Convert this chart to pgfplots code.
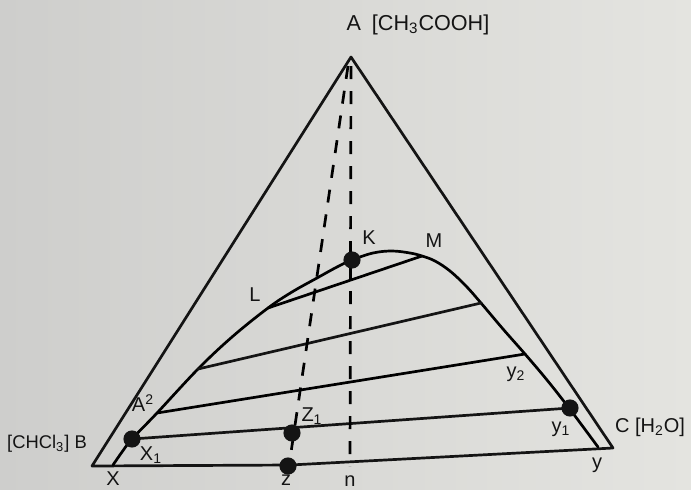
\documentclass[border=0pt]{standalone}
\usepackage{pgfplots}
\pgfplotsset{compat=1.18}
\usepackage{fontspec}
\setmainfont{Liberation Sans}
\definecolor{paper}{RGB}{228,228,224}
\definecolor{paperedge}{RGB}{206,206,204}
\definecolor{ink}{RGB}{20,20,20}
\tikzset{lbl/.style={font=\fontsize{10}{12}\selectfont, text=ink, inner sep=0pt}}

\begin{document}
\begin{tikzpicture}
\begin{axis}[
  scale only axis, width=345.5pt, height=244.5pt,
  xmin=0, xmax=691, ymin=0, ymax=489, y dir=reverse,
  hide axis, clip=false,
  cycle list={{ink, mark=none}},
  every axis plot/.append style={line width=1.35pt, line join=round, line cap=round},
]
% page background
\path[left color=paperedge, right color=paper, shading angle=90]
  (axis cs:0,0) rectangle (axis cs:691,489);

% outer triangle A-B-C
\addplot coordinates {(92,466) (351,57) (613,448) (290,465) (92,466)};

% binodal curve X ... K ... y
\addplot[smooth, tension=0.6] coordinates {
  (113,465) (122,452) (132,439) (157,413) (198,369) (232,337) (268,308)
  (292,292) (317,278) (337,267) (352,260) (373,253) (392,251) (410,253)
  (422,256) (435,261) (450,271) (466,286) (481,303) (503,329) (525,354)
  (547,380) (569,408) (598,447)};

% tie lines
\addplot coordinates {(132,439) (570,408)};
\addplot coordinates {(157,413) (525,354)};
\addplot coordinates {(198,369) (481,303)};
\addplot coordinates {(268,308) (422,256)};

% dashed construction lines from A
\addplot[line width=1.35pt, dash pattern=on 6.5pt off 6pt, line cap=butt]
  coordinates {(351,66) (350,466)};
\addplot[line width=1.35pt, dash pattern=on 6.5pt off 6pt, line cap=butt]
  coordinates {(348,66) (289,466)};

% composition points
\addplot[only marks, mark=*, mark size=3.6pt, mark options={fill=ink, draw=ink}]
  coordinates {(132,439) (292,433) (288,466) (352,260) (570,408)};

% labels
\node[lbl, font=\fontsize{10.8}{13}\selectfont] at (axis cs:418,25) {A\hspace{0.5em}[CH\textsubscript{3}COOH]};
\node[lbl, font=\fontsize{9.2}{11}\selectfont] at (axis cs:47,444) {[CHCl\textsubscript{3}] B};
\node[lbl] at (axis cs:650,427) {C [H\textsubscript{2}O]};
\node[lbl] at (axis cs:113,479) {X};
\node[lbl] at (axis cs:151,455) {X\textsubscript{1}};
\node[lbl] at (axis cs:143,403) {A\textsuperscript{2}};
\node[lbl] at (axis cs:312,416) {Z\textsubscript{1}};
\node[lbl] at (axis cs:286,480) {z};
\node[lbl] at (axis cs:350,481) {n};
\node[lbl] at (axis cs:597,465) {y};
\node[lbl] at (axis cs:561,429) {y\textsubscript{1}};
\node[lbl] at (axis cs:516,374) {y\textsubscript{2}};
\node[lbl] at (axis cs:255,295) {L};
\node[lbl] at (axis cs:369,238) {K};
\node[lbl] at (axis cs:434,241) {M};
\end{axis}
\pgfresetboundingbox
\path (current axis.south west) rectangle (current axis.north east);
\end{tikzpicture}
\end{document}
